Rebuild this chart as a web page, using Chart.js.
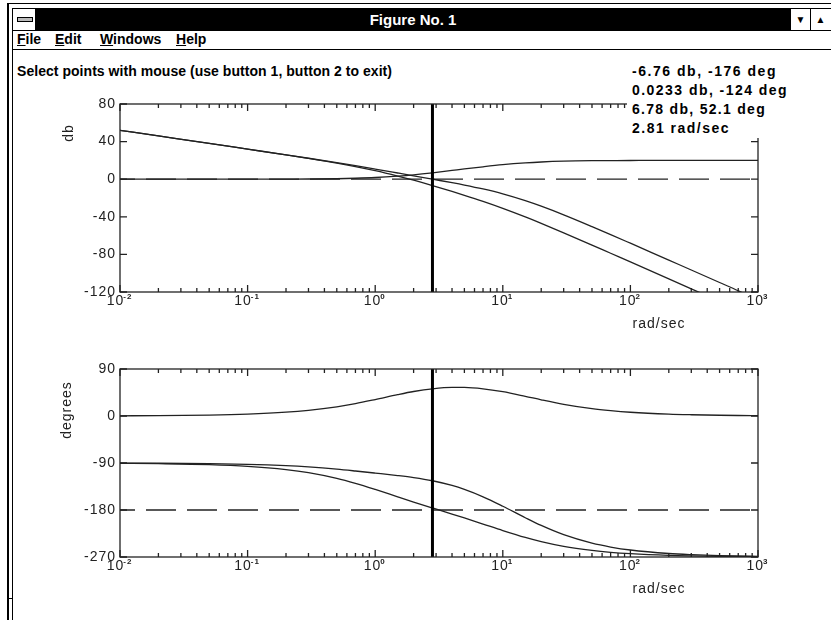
<!DOCTYPE html>
<html>
<head>
<meta charset="utf-8">
<title>Figure No. 1</title>
<script src="https://cdn.jsdelivr.net/npm/chart.js@4.4.1/dist/chart.umd.min.js"></script>
<style>
  html, body { margin: 0; padding: 0; background: #fff; }
  body { position: relative; width: 831px; height: 620px; overflow: hidden;
         font-family: "Liberation Sans", Arial, sans-serif; color: #000; }
  .abs { position: absolute; white-space: nowrap; }
  .blk { position: absolute; background: #000; }
  canvas { position: absolute; left: 0; }
  #titlebar { left: 36px; top: 9px; width: 754px; height: 21px; background: #000;
              color: #fff; font-weight: bold; font-size: 15px; line-height: 21px; text-align: center; }
  .btn { top: 9px; width: 19px; height: 21px; background: #fff; font-size: 10px; line-height: 21px; text-align: center; }
  .menu { top: 30px; font-weight: bold; font-size: 14px; line-height: 18px; }
  .bold { font-weight: bold; font-size: 14px; line-height: 19px; height: 19px; }
  .lbl { font-size: 14px; color: #222; letter-spacing: 1px; }
  #readoutBg { left: 627px; top: 62px; width: 204px; height: 76px; background: #fff; z-index: 2; }
  .ro { z-index: 3; }
</style>
</head>
<body>
<!-- window frame -->
<div class="blk" style="left:7px;top:3px;width:2px;height:617px"></div>
<div class="blk" style="left:12px;top:8px;width:1px;height:612px"></div>
<div class="blk" style="left:7px;top:3px;width:824px;height:1px"></div>
<div class="blk" style="left:12px;top:8px;width:819px;height:1px"></div>
<div class="blk" style="left:8px;top:598px;width:5px;height:1px"></div>
<div class="abs" style="left:13px;top:9px;width:22px;height:21px;background:#fff"></div>
<div class="abs" style="left:17px;top:17px;width:14px;height:3px;border:1px solid #000;background:#bbb"></div>
<div class="blk" style="left:35px;top:9px;width:1px;height:21px"></div>
<div id="titlebar" class="abs">Figure No. 1</div>
<div class="blk" style="left:790px;top:9px;width:1px;height:21px"></div>
<div class="abs btn" style="left:791px">&#9660;</div>
<div class="blk" style="left:810px;top:9px;width:1px;height:21px"></div>
<div class="abs btn" style="left:811px">&#9650;</div>
<div class="blk" style="left:13px;top:30px;width:818px;height:1px"></div>
<div class="abs menu" style="left:17px"><u>F</u>ile</div>
<div class="abs menu" style="left:55px"><u>E</u>dit</div>
<div class="abs menu" style="left:100px"><u>W</u>indows</div>
<div class="abs menu" style="left:176px"><u>H</u>elp</div>
<div class="blk" style="left:13px;top:49px;width:818px;height:1px"></div>

<canvas id="magChart" width="831" height="250" style="top:90px"></canvas>
<canvas id="phaseChart" width="831" height="250" style="top:355px"></canvas>

<div class="abs bold fit" data-w="375" style="left:17px;top:62px">Select points with mouse (use button 1, button 2 to exit)</div>
<div id="readoutBg" class="abs"></div>
<div class="abs bold ro fit" data-w="145" style="left:632px;top:62px">-6.76 db, -176 deg</div>
<div class="abs bold ro fit" data-w="156" style="left:632px;top:81px">0.0233 db, -124 deg</div>
<div class="abs bold ro fit" data-w="134" style="left:632px;top:100px">6.78 db, 52.1 deg</div>
<div class="abs bold ro fit" data-w="98" style="left:632px;top:119px">2.81 rad/sec</div>

<div class="abs lbl" style="left:68px;top:133px;transform:translate(-50%,-50%) rotate(-90deg)">db</div>
<div class="abs lbl" style="left:66px;top:410px;transform:translate(-50%,-50%) rotate(-90deg)">degrees</div>
<div class="abs lbl" style="left:659px;top:323px;transform:translate(-50%,-50%)">rad/sec</div>
<div class="abs lbl" style="left:659px;top:588px;transform:translate(-50%,-50%)">rad/sec</div>

<script>
// frequency grid (rad/sec) shared by all curves
const freqs = [0.01, 0.02, 0.05, 0.1, 0.2, 0.3, 0.5, 0.7, 1, 1.5, 2, 2.81, 4, 5, 7,
               10, 15, 20, 30, 50, 70, 100, 200, 300, 500, 700, 1000];

// magnitude, db
const magPlant = [52.0, 46.0, 38.1, 32.0, 25.9, 22.1, 17.1, 13.4, 9.0, 3.3, -1.1, -6.8, -13.0, -17.1, -23.6,
                  -31.0, -40.1, -47.0, -57.1, -70.1, -78.8, -88.0, -106.0, -116.6, -130.0, null, null];
const magLoop  = [52.0, 46.0, 38.1, 32.0, 25.9, 22.3, 17.6, 14.4, 10.8, 6.6, 3.6, 0.0, -3.7, -6.2, -10.4,
                  -15.6, -22.8, -28.7, -37.9, -50.4, -58.9, -68.1, -86.1, -96.6, -109.9, -118.7, -128.6];
const magComp  = [0.0, 0.0, 0.0, 0.0, 0.1, 0.2, 0.5, 1.0, 1.8, 3.3, 4.7, 6.8, 9.3, 10.9, 13.2,
                  15.4, 17.3, 18.3, 19.2, 19.7, 19.8, 19.9, 20.0, 20.0, 20.0, 20.0, 20.0];

// phase, degrees
const phasePlant = [-90.6, -91.3, -93.1, -96.3, -102.5, -108.4, -119.4, -129.0, -140.7, -154.8, -164.7, -176.1, -187.8, -195.3, -206.9,
                    -219.3, -232.5, -240.6, -249.7, -257.5, -261.1, -263.7, -266.9, -267.9, -268.7, -269.1, -269.4];
const phaseLoop  = [-90.3, -90.5, -91.3, -92.6, -95.2, -97.6, -101.8, -105.3, -109.3, -114.0, -117.9, -124.0, -133.0, -140.6, -154.7,
                    -172.8, -194.8, -209.6, -227.3, -243.5, -250.9, -256.6, -263.3, -265.5, -267.3, -268.1, -268.7];
const phaseComp  = [0.4, 0.7, 1.8, 3.7, 7.3, 10.9, 17.6, 23.7, 31.5, 40.9, 46.9, 52.1, 54.8, 54.7, 52.1,
                    46.5, 37.7, 31.0, 22.4, 14.0, 10.2, 7.2, 3.6, 2.4, 1.4, 1.0, 0.7];

// reference lines and cursor
const freqRange = [0.01, 1000];
const gainRef = 0;
const phaseRef = -180;
const cursorFreq = 2.81;

// axis ticks
const freqTicks = [0.01, 0.1, 1, 10, 100, 1000];
const freqTickExps = ['-2', '-1', '0', '1', '2', '3'];
const magTicks = [80, 40, 0, -40, -80, -120];
const phaseTicks = [90, 0, -90, -180, -270];

const ink = '#222';
const labelFont = '14px "Liberation Sans", Arial, sans-serif';

// matlab style box: frame, inward ticks on all four sides, tick labels
const boxAxes = {
  id: 'boxAxes',
  afterDatasetsDraw(chart, args, opts) {
    const { ctx, chartArea: a, scales: { x, y } } = chart;
    ctx.save();
    ctx.strokeStyle = ink;
    ctx.lineWidth = 1.3;
    ctx.strokeRect(a.left, a.top, a.right - a.left, a.bottom - a.top);
    ctx.beginPath();
    freqTicks.forEach(d => {
      for (let m = 1; m < 10; m++) {
        const v = m * d;
        if (v > x.max * 1.0001) break;
        const px = x.getPixelForValue(v);
        const len = m === 1 ? 7 : 4;
        ctx.moveTo(px, a.bottom); ctx.lineTo(px, a.bottom - len);
        ctx.moveTo(px, a.top); ctx.lineTo(px, a.top + len);
      }
    });
    opts.yTicks.forEach(v => {
      const py = y.getPixelForValue(v);
      ctx.moveTo(a.left, py); ctx.lineTo(a.left + 7, py);
      ctx.moveTo(a.right, py); ctx.lineTo(a.right - 7, py);
    });
    ctx.stroke();

    ctx.fillStyle = ink;
    ctx.font = labelFont;
    ctx.letterSpacing = '1px';
    ctx.textAlign = 'right';
    ctx.textBaseline = 'middle';
    opts.yTicks.forEach(v => ctx.fillText(String(v), a.left - 4, y.getPixelForValue(v)));

    ctx.textAlign = 'left';
    freqTicks.forEach((v, i) => {
      const px = x.getPixelForValue(v);
      ctx.font = labelFont;
      const w10 = ctx.measureText('10').width;
      ctx.font = 'bold 8px "Liberation Sans", Arial, sans-serif';
      const wExp = ctx.measureText(freqTickExps[i]).width;
      const x0 = px - (w10 + wExp) / 2;
      const yy = a.bottom + 9;
      ctx.font = labelFont;
      ctx.fillText('10', x0, yy);
      ctx.font = 'bold 8px "Liberation Sans", Arial, sans-serif';
      ctx.fillText(freqTickExps[i], x0 + w10 - 1, yy - 4);
    });
    ctx.restore();
  }
};

function series(ys) {
  return freqs.map((f, i) => ({ x: f, y: ys[i] }));
}

function curve(ys) {
  return { data: series(ys), borderColor: ink, borderWidth: 1.3, pointRadius: 0,
           cubicInterpolationMode: 'monotone', spanGaps: false };
}

function refLine(val) {
  return { data: freqRange.map(f => ({ x: f, y: val })), borderColor: ink, borderWidth: 1.3,
           pointRadius: 0, borderDash: [30, 11], borderDashOffset: 15 };
}

function cursor(yMin, yMax) {
  return { data: [{ x: cursorFreq, y: yMin }, { x: cursorFreq, y: yMax }],
           borderColor: '#000', borderWidth: 3, pointRadius: 0 };
}

function makeChart(id, yMin, yMax, yTicks, datasets) {
  return new Chart(document.getElementById(id), {
    type: 'line',
    data: { datasets },
    options: {
      responsive: false,
      animation: false,
      devicePixelRatio: 1,
      layout: { padding: { left: 120, top: 14, right: 73, bottom: 48 } },
      plugins: { legend: { display: false }, tooltip: { enabled: false }, boxAxes: { yTicks } },
      scales: {
        x: { type: 'logarithmic', min: 0.01, max: 1000, display: false },
        y: { type: 'linear', min: yMin, max: yMax, display: false }
      }
    },
    plugins: [boxAxes]
  });
}

makeChart('magChart', -120, 80, magTicks, [
  cursor(-120, 80),
  curve(magPlant),
  curve(magLoop),
  curve(magComp),
  refLine(gainRef)
]);

makeChart('phaseChart', -270, 90, phaseTicks, [
  cursor(-270, 90),
  curve(phasePlant),
  curve(phaseLoop),
  curve(phaseComp),
  refLine(phaseRef)
]);

// stretch the bold system-font texts to the widths seen in the figure
document.querySelectorAll('.fit').forEach(el => {
  const target = +el.dataset.w;
  const natural = el.getBoundingClientRect().width;
  el.style.letterSpacing = ((target - natural) / el.textContent.length) + 'px';
});
</script>
</body>
</html>
